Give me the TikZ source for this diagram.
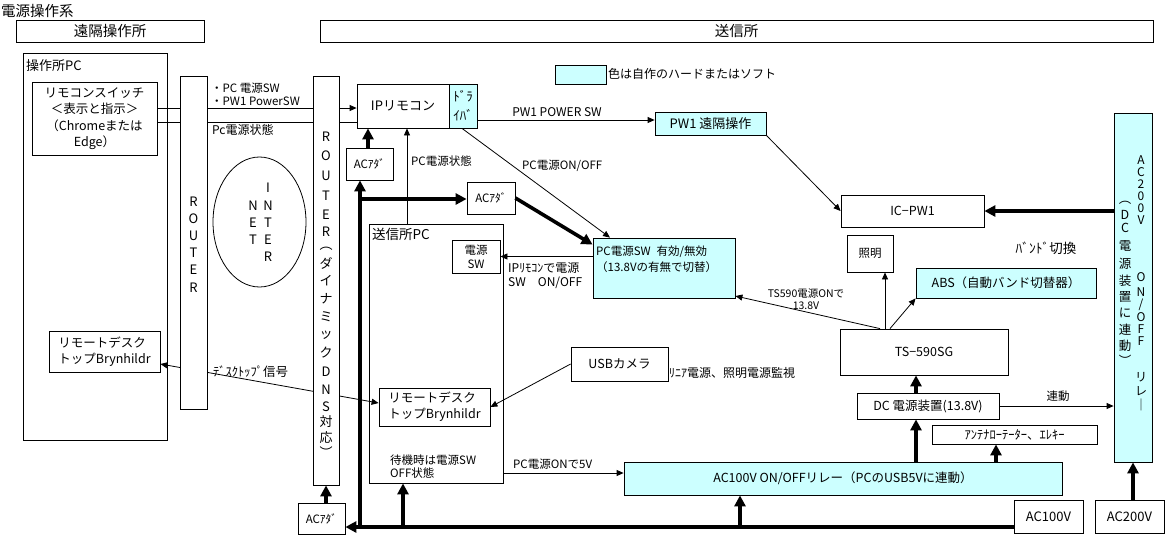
\documentclass[tikz,border=0pt]{standalone}
\usepackage{fontspec}
\setmainfont{Noto Sans CJK JP}
\usetikzlibrary{arrows.meta,calc,shapes.geometric}
\definecolor{cy}{RGB}{204,255,255}
\newcommand{\mkbox}[7]{%
  \pgfmathsetmacro\mkbw{#5-#3}\pgfmathsetmacro\mkbh{#6-#4}%
  \pgfmathsetmacro\mkbx{(#3+#5)/2}\pgfmathsetmacro\mkby{(#4+#6)/2}%
  \node[box,#1,minimum width=\mkbw pt,minimum height=\mkbh pt] (#2) at (\mkbx,\mkby) {#7};}
\begin{document}
\begin{tikzpicture}[x=1pt,y=-1pt,
  fs/.style 2 args={font=\fontsize{#1}{#2}\selectfont},
  box/.style={draw, line width=0.8pt, inner sep=0pt, fill=white, align=center},
  cbox/.style={box, fill=cy},
  lbl/.style={inner sep=0pt, align=left},
  ln/.style={line width=0.8pt},
  ar/.style={ln, -{Triangle[length=7pt,width=6pt]}},
  thk/.style={line width=3.6pt},
  tar/.style={thk, -{Triangle[length=11pt,width=11pt]}}]
\useasboundingbox (0,0) rectangle (1168,539);

% title and headers
\node[lbl, anchor=west, fs={14.5}{16}] (title) at (1,11) {電源操作系};
\mkbox{fs={14.5}{16}}{enk}{16}{20}{204}{42}{遠隔操作所}
\mkbox{fs={14.5}{16}}{sou}{320}{20}{1153}{42}{送信所}

% left PC
\mkbox{}{opc}{23}{53}{167}{440}{}
\node[lbl, anchor=north west, fs={13}{15}] (opcl) at (26,59) {操作所PC};
\mkbox{fs={12.5}{16.5}}{rc}{32}{82}{157}{155}{リモコンスイッチ\\＜表示と指示＞\\（Chromeまたは\\Edge）}
\mkbox{fs={12.5}{16}, align=left}{rd1}{49}{331}{160}{372}{リモートデスク\\トップBrynhildr}

% transmit PC and inner boxes
\mkbox{}{spc}{369}{224}{503}{483}{}
\node[lbl, anchor=north west, fs={13.5}{15}] (spcl) at (372,228) {送信所PC};
\mkbox{fs={11.5}{14}}{dsw}{452}{240}{500}{273}{電源\\SW}
\mkbox{fs={12.5}{16}, align=left}{rd2}{379}{388}{490}{426}{リモートデスク\\トップBrynhildr}
\node[lbl, anchor=north west, fs={11.5}{13}] (wait) at (390,455) {待機時は電源SW\\OFF状態};

% desktop signal (drawn under routers)
\draw[ln, {Triangle[length=7pt,width=6pt]}-{Triangle[length=7pt,width=6pt]}] (rd1.east |- 0,364) -- (rd2.west |- 0,403);
\node[lbl, anchor=west, fs={12.5}{13}] (dtl) at (213,372) {ﾃﾞｽｸﾄｯﾌﾟ信号};

% routers
\mkbox{}{r1}{180}{76}{207}{409}{}
\foreach \c/\y [count=\i] in {R/202,O/219,U/236,T/253,E/270,R/288}
  \node[fs={13}{14}, inner sep=0pt] (r1c\i) at (193.5,\y) {\c};
\mkbox{}{dns}{313}{76}{339}{485}{}
\foreach \c/\y [count=\i] in {R/137,O/156,U/176,T/196,E/215,R/232,︵/249,ダ/263,イ/281,ナ/299,ミ/317,ッ/335,ク/353,D/372,N/390,S/407,対/422,応/438,︶/452}
  \node[fs={13}{14}, inner sep=0pt] (dnc\i) at (326,\y) {\c};

% internet
\node[draw, line width=0.8pt, ellipse, minimum width=93pt, minimum height=130pt, inner sep=0pt] (inet) at (259.5,222) {};
\foreach \c/\y [count=\i] in {N/206,E/223,T/240}
  \node[fs={13}{14}, inner sep=0pt] (ia\i) at (253,\y) {\c};
\foreach \c/\y [count=\i] in {I/188,N/206,T/223,E/240,R/257}
  \node[fs={13}{14}, inner sep=0pt] (ib\i) at (268,\y) {\c};

% labels between routers
\node[lbl, anchor=west, fs={11.5}{13}] (l1) at (211,88) {・PC 電源SW};
\node[lbl, anchor=west, fs={11.5}{13}] (l2) at (211,101) {・PW1 PowerSW};
\node[lbl, anchor=west, fs={12}{13}] (l3) at (212,130) {Pc電源状態};

% AC adapters
\mkbox{fs={11.5}{12}}{acd3}{298}{503}{345}{534}{ACｱﾀﾞ}
\mkbox{fs={11.5}{12}}{acd1}{346}{148}{393}{180}{ACｱﾀﾞ}
\mkbox{fs={11.5}{12}}{acd2}{467}{182}{515}{214}{ACｱﾀﾞ}

% IP remote
\mkbox{fs={13}{14}}{ipr}{357}{84}{449}{128}{IPリモコン}
\mkbox{cbox, fs={13}{19}}{drv}{449}{84}{477}{128}{ﾄﾞﾗ\\ｲﾊﾞ}

% legend
\mkbox{cbox}{leg}{555}{65}{606}{84}{}
\node[lbl, anchor=west, fs={12}{14}] (legt) at (608,74) {色は自作のハードまたはソフト};

% right side
\mkbox{cbox, fs={13}{15}}{pw1}{655}{112}{766}{135}{PW1 遠隔操作}
\mkbox{fs={12.5}{14}}{icpw1}{841}{195}{984}{227}{IC−PW1}
\mkbox{cbox}{pcsw}{593}{238}{735}{298}{}
\node[lbl, anchor=north west, fs={11.5}{16}] (pcswt) at (596,246) {PC電源SW\enspace 有効/無効\\（13.8Vの有無で切替）};
\node[lbl, anchor=north west, fs={12}{14}] (iprl) at (508,262) {IPﾘﾓｺﾝで電源\\SW\quad ON/OFF};
\mkbox{fs={11.5}{13}}{sho}{847}{235}{893}{272}{照明}
\node[lbl, fs={13.5}{14}] (band) at (1046,248) {ﾊﾞﾝﾄﾞ切換};
\mkbox{cbox, fs={12.5}{14}}{abs}{916}{268}{1096}{298}{ABS（自動バンド切替器）}
\node[lbl, align=center, fs={10.5}{12}] (tsl) at (806,299) {TS590電源ONで\\13.8V};
\mkbox{fs={12.5}{14}}{ts}{840}{329}{1008}{375}{TS−590SG}
\mkbox{fs={12.5}{14}}{dc}{857}{393}{999}{419}{DC 電源装置(13.8V)}
\node[lbl, fs={11.5}{13}] (rendo) at (1058,396) {連動};
\mkbox{fs={12.5}{13}}{ant}{932}{425}{1097}{444}{ｱﾝﾃﾅﾛｰﾃｰﾀｰ、ｴﾚｷｰ}
\mkbox{cbox, fs={12.5}{14}}{r100}{624}{462}{1062}{495}{AC100V ON/OFFリレー（PCのUSB5Vに連動）}
\mkbox{fs={13}{14}}{ac100}{1014}{500}{1083}{533}{AC100V}
\mkbox{fs={13}{14}}{ac200}{1095}{500}{1164}{533}{AC200V}
\mkbox{fs={12.5}{14}}{usb}{571}{347}{668}{381}{USBカメラ}
\node[lbl, anchor=west, fs={12}{13}] (usbl) at (669,373) {ﾘﾆｱ電源、照明電源監視};
\node[lbl, anchor=west, fs={11.5}{13}] (p5v) at (513,464) {PC電源ONで5V};
\node[lbl, anchor=west, fs={11.5}{13}] (pcsl) at (411,161) {PC電源状態};
\node[lbl, anchor=west, fs={11.5}{13}] (onoff) at (522,166) {PC電源ON/OFF};
\node[lbl, fs={12}{13}] (pwsw) at (557,112) {PW1 POWER SW};

% AC200V relay (vertical text)
\mkbox{cbox}{r200}{1114}{113}{1152}{462}{}
\foreach \c/\y [count=\i] in {A/160,C/172,2/184,0/196,0/208,V/220,O/277,N/292,{/}/305,O/317,F/329,F/341,リ/377,レ/391,｜/405}
  \node[fs={12}{13}, inner sep=0pt] (rrc\i) at (1141,\y) {\c};
\foreach \c/\y [count=\i] in {︵/203,D/215,C/228,電/246,源/264,装/281,置/297,に/313,連/330,動/346,︶/360}
  \node[fs={12.5}{13}, inner sep=0pt] (rlc\i) at (1125,\y) {\c};

% thin connectors between remote and routers
\draw[ln] (rc.east |- 0,108) -- (r1.west |- 0,108);
\draw[ln] (rc.east |- 0,122) -- (r1.west |- 0,122);
\draw[ln] (r1.east |- 0,108) -- (dns.west |- 0,108);
\draw[ln] (r1.east |- 0,122) -- (dns.west |- 0,122);
\draw[ar] (dns.east |- 0,108) -- (ipr.west |- 0,108);
\draw[ln] (dns.east |- 0,122) -- (ipr.west |- 0,122);

% thick power lines
\coordinate (jb) at (360,527);
\coordinate (jh) at (360,199);
\coordinate (jb2) at (403,527);
\coordinate (jb3) at (740,527);
\draw[tar] (ac100.west |- 0,527) -- (acd3.east |- 0,527);
\draw[tar] (jb) -- (acd1.south -| jb);
\draw[tar] (jh) -- (acd2.west |- jh);
\draw[tar] (acd1.north -| 368,0) -- (ipr.south -| 368,0);
\draw[tar] (acd3.north -| dns.south) -- (dns.south);
\draw[tar] (acd2.east) -- ([yshift=-7pt]pcsw.north west);
\draw[tar] (jb2) -- (spc.south -| jb2);
\draw[tar] (jb3) -- (r100.south -| jb3);
\draw[tar] (r100.north -| 916,0) -- (dc.south -| 916,0);
\draw[tar] (dc.north -| 916,0) -- (ts.south -| 916,0);
\draw[tar] (r100.north -| 996,0) -- (ant.south -| 996,0);
\draw[tar] (ac200.north -| r200.south) -- (r200.south);
\draw[tar] (r200.west |- icpw1.east) -- (icpw1.east);

% thin arrows
\draw[ar] (spc.north -| 407,0) -- (ipr.south -| 407,0);
\draw[ar] (drv.south -| 462,0) -- (pcsw.north -| 610,0);
\draw[ar] (drv.east |- 0,120) -- (pw1.west |- 0,120);
\draw[ar] (pw1.south east) -- (icpw1.west);
\draw[ar] (pcsw.west |- dsw.east) -- (dsw.east);
\draw[ar] (ts.north -| 880,0) -- (pcsw.east |- 0,296);
\draw[ar] (ts.north -| 885,0) -- (sho.south -| 885,0);
\draw[ar] (ts.north -| 890,0) -- (abs.south west);
\draw[ar] (dc.east) -- (r200.west |- dc.east);
\draw[ar] (usb.west) -- (rd2.east);
\draw[ar] (spc.east |- 0,473) -- (r100.west |- 0,473);
\end{tikzpicture}
\end{document}
